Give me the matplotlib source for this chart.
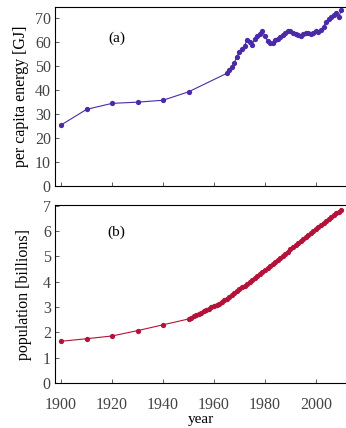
import numpy as np
import matplotlib
matplotlib.use("Agg")
import matplotlib.pyplot as plt

plt.rcParams['font.family'] = ['Liberation Serif', 'DejaVu Serif']

# (a) per capita energy [GJ]
energy_years = [1900, 1910, 1920, 1930, 1940, 1950] + list(range(1965, 2011))
energy = [25.5, 32, 34.5, 35, 35.8, 39.3,
          47, 48.5, 49.5, 51.5, 54, 56, 57, 58.5, 61, 60,
          59, 61.5, 62.5, 63.5, 64.5, 62.5, 60.5, 59.5, 59.5, 61,
          61.5, 62, 63, 64, 64.5, 64.5, 64, 63.2, 62.8, 62.5,
          63.2, 64, 64, 63.5, 63.8, 64.5, 64.3, 65, 66.5, 68.5,
          69.5, 70.5, 71.5, 72, 70.5, 73.5]

# (b) population [billions]
pop_years = [1900, 1910, 1920, 1930, 1940] + list(range(1950, 2011))
population = [1.65, 1.75, 1.86, 2.07, 2.3,
              2.53, 2.58, 2.63, 2.68, 2.73, 2.78, 2.83, 2.88, 2.94, 2.99,
              3.03, 3.08, 3.14, 3.20, 3.26, 3.33, 3.40, 3.47, 3.54, 3.62,
              3.70, 3.78, 3.85, 3.93, 4.00, 4.08, 4.15, 4.22, 4.29, 4.37,
              4.45, 4.53, 4.61, 4.69, 4.77, 4.85, 4.94, 5.02, 5.11, 5.19,
              5.28, 5.36, 5.44, 5.52, 5.60, 5.68, 5.76, 5.84, 5.92, 6.00,
              6.08, 6.16, 6.23, 6.31, 6.39, 6.46, 6.54, 6.62, 6.70, 6.77,
              6.85]

fig = plt.figure(figsize=(3.46, 4.28), dpi=100)
ax1 = fig.add_axes([0.159, 0.565, 0.841, 0.419])
ax2 = fig.add_axes([0.159, 0.105, 0.841, 0.416])

tick_col = "#444444"
for ax in (ax1, ax2):
    ax.set_xlim(1897.6, 2011.8)
    ax.set_xticks([1900, 1920, 1940, 1960, 1980, 2000])
    ax.tick_params(direction="in", length=3, width=0.6, labelsize=11.5, colors=tick_col)
    ax.tick_params(axis="x", pad=10)
    ax.tick_params(axis="y", pad=3)
    ax.spines["right"].set_visible(False)
    for s in ("left", "top", "bottom"):
        ax.spines[s].set_linewidth(0.8)

ax1.plot(energy_years, energy, color="#4b2aa8", lw=0.8, marker="o", ms=3.8, mew=0)
ax1.set_ylim(0, 74.7)
ax1.set_yticks(range(0, 71, 10))
ax1.tick_params(axis="x", labelbottom=False)
ax1.set_ylabel("per capita energy [GJ]", fontsize=11.5, labelpad=4)
ax1.text(1918.5, 60, "(a)", fontsize=11)

ax2.plot(pop_years, population, color="#b5123a", lw=0.8, marker="o", ms=3.8, mew=0)
ax2.set_ylim(0, 7.03)
ax2.set_yticks(range(0, 8))
ax2.set_ylabel("population [billions]", fontsize=11.5, labelpad=8)
ax2.set_xlabel("year", fontsize=11, labelpad=0)
ax2.text(1918, 5.8, "(b)", fontsize=11)

fig.savefig("out.png", dpi=100)
